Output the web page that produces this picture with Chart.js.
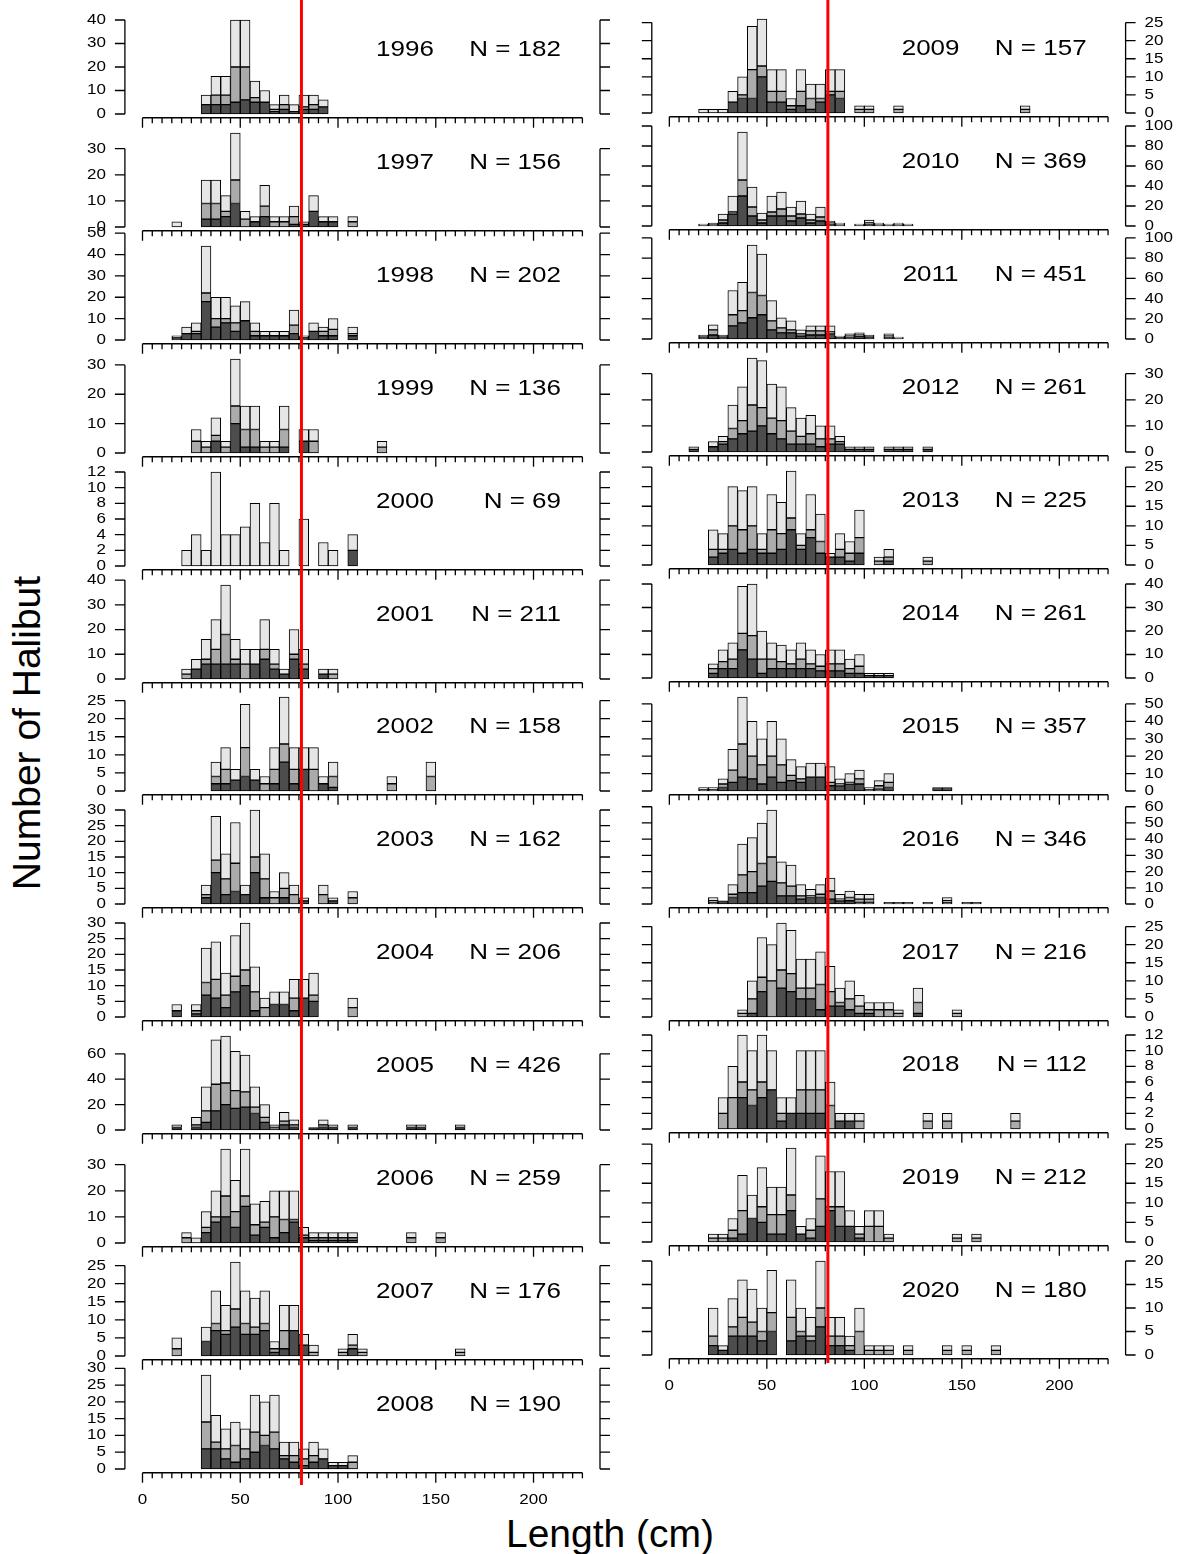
<!DOCTYPE html>
<html><head><meta charset="utf-8">
<script src="https://cdn.jsdelivr.net/npm/chart.js@4.4.1/dist/chart.umd.min.js"></script>
<style>
html,body{margin:0;padding:0;background:#fff;}
body{width:1178px;height:1554px;position:relative;overflow:hidden;font-family:"Liberation Sans",Arial,sans-serif;}
canvas{position:absolute;}
.ttl{position:absolute;white-space:nowrap;color:#000;font-size:39px;line-height:1;}
#ytitle{left:26px;top:733px;transform:translate(-50%,-50%) rotate(-90deg) scaleY(1);}
#xtitle{left:610px;top:1533px;transform:translate(-50%,-50%);}
</style></head><body>
<div id="ytitle" class="ttl">Number of Halibut</div>
<div id="xtitle" class="ttl">Length (cm)</div>
<script>
// ---------------- DATA (5-cm length bins: lower edge, counts per shade) ----------------
const years = [1996,1997,1998,1999,2000,2001,2002,2003,2004,2005,2006,2007,2008,2009,2010,2011,2012,2013,2014,2015,2016,2017,2018,2019,2020];
const nLabels = ['N = 182','N = 156','N = 202','N = 136','N = 69','N = 211','N = 158','N = 162','N = 206','N = 426','N = 259','N = 176','N = 190','N = 157','N = 369','N = 451','N = 261','N = 225','N = 261','N = 357','N = 346','N = 216','N = 112','N = 212','N = 180'];
const xMajorTicks = [0,50,100,150,200];
const xMinorTicks = [0,5,10,15,20,25,30,35,40,45,50,55,60,65,70,75,80,85,90,95,100,105,110,115,120,125,130,135,140,145,150,155,160,165,170,175,180,185,190,195,200,205,210,215,220,225];
const cutLength = 81.3;

const bins1996=[30,35,40,45,50,55,60,65,70,75,80,85,90];
const dark1996=[4,4,4,5,6,5,5,1,2,1,2,2,3];
const mid1996=[0,4,4,15,14,2,0,1,2,0,1,2,0];
const light1996=[4,8,8,20,20,7,5,2,4,3,5,4,3];
const yt1996=[0,10,20,30,40];

const bins1997=[15,30,35,40,45,50,55,60,65,70,75,80,85,90,95,105];
const dark1997=[0,3,3,4,9,0,2,4,0,0,1,1,6,2,2,0];
const mid1997=[0,6,6,2,9,3,0,4,2,2,3,0,0,0,0,2];
const light1997=[2,9,9,6,18,3,2,8,2,2,4,1,6,2,2,2];
const yt1997=[0,10,20,30];

const bins1998=[15,20,25,30,35,40,45,50,55,60,65,70,75,80,85,90,95,105];
const dark1998=[1,3,3,18,6,8,4,9,2,2,2,2,3,1,4,2,2,2];
const mid1998=[0,0,1,4,4,2,4,0,2,0,0,0,4,0,0,2,3,1];
const light1998=[1,3,4,22,10,10,8,9,4,2,2,2,7,1,4,2,5,3];
const yt1998=[0,10,20,30,40,50];

const bins1999=[25,30,35,40,45,50,55,60,65,70,80,85,120];
const dark1999=[0,0,4,0,10,2,2,0,0,2,4,0,0];
const mid1999=[4,2,2,2,6,6,6,2,2,6,0,4,2];
const light1999=[4,2,6,2,16,8,8,2,2,8,4,4,2];
const yt1999=[0,10,20,30];

const bins2000=[20,25,30,35,40,45,50,55,60,65,70,80,90,95,105];
const dark2000=[0,0,0,0,0,0,0,0,0,0,0,0,0,0,2];
const mid2000=[0,0,0,0,0,0,0,0,0,0,0,0,0,0,0];
const light2000=[2,4,2,12,4,4,5,8,3,8,2,6,3,2,2];
const yt2000=[0,2,4,6,8,10,12];

const bins2001=[20,25,30,35,40,45,50,55,60,65,70,75,80,90,95];
const dark2001=[0,4,6,6,6,6,0,6,8,4,2,8,4,2,0];
const mid2001=[2,0,2,6,12,2,6,0,4,2,0,2,2,0,2];
const light2001=[2,4,8,12,20,8,6,6,12,6,2,10,6,2,2];
const yt2001=[0,10,20,30,40];

const bins2002=[35,40,45,50,55,60,65,70,75,80,85,90,95,125,145];
const dark2002=[2,2,3,4,3,0,2,8,2,6,0,2,1,0,0];
const mid2002=[2,4,0,8,0,2,4,5,4,0,6,0,3,2,4];
const light2002=[4,6,3,12,3,2,6,13,6,6,6,2,4,2,4];
const yt2002=[0,5,10,15,20,25];

const bins2003=[30,35,40,45,50,55,60,65,70,75,80,90,95,105];
const dark2003=[2,10,3,4,3,10,2,0,2,0,1,0,1,0];
const mid2003=[1,4,5,9,0,5,6,2,3,3,0,3,0,2];
const light2003=[3,14,8,13,3,15,8,2,5,3,1,3,1,2];
const yt2003=[0,5,10,15,20,25,30];

const bins2004=[15,25,30,35,40,45,50,55,60,65,70,75,80,85,105];
const dark2004=[2,1,7,6,3,8,10,2,0,4,4,2,6,5,0];
const mid2004=[0,1,4,6,4,5,5,6,3,0,0,4,0,2,3];
const light2004=[2,2,11,12,7,13,15,8,3,4,4,6,6,7,3];
const yt2004=[0,5,10,15,20,25,30];

const bins2005=[15,25,30,35,40,45,50,55,60,65,70,75,85,90,95,105,135,140,160];
const dark2005=[2,2,6,15,20,17,18,13,6,0,4,2,2,2,2,2,2,2,2];
const mid2005=[0,2,9,21,17,14,12,5,4,2,3,2,0,2,0,0,0,0,0];
const light2005=[2,6,19,35,37,31,29,16,10,2,7,4,0,4,2,2,2,2,2];
const yt2005=[0,20,40,60];

const bins2006=[20,25,30,35,40,45,50,55,60,65,70,75,80,85,90,95,100,105,135,150];
const dark2006=[0,0,4,8,10,6,14,3,6,2,4,8,2,1,1,1,1,1,0,0];
const mid2006=[2,0,2,2,8,6,4,4,2,8,5,1,1,1,1,1,1,1,2,2];
const light2006=[2,2,6,10,18,12,18,8,8,10,11,11,3,2,2,2,2,2,2,2];
const yt2006=[0,10,20,30];

const bins2007=[15,30,35,40,45,50,55,60,65,70,75,80,85,100,105,110,160];
const dark2007=[0,4,7,6,8,6,6,7,1,2,7,3,0,0,2,0,0];
const mid2007=[2,0,2,1,5,3,2,2,1,5,0,0,1,1,1,1,1];
const light2007=[3,4,9,7,13,9,8,9,2,7,7,3,2,1,3,1,1];
const yt2007=[0,5,10,15,20,25];

const bins2008=[30,35,40,45,50,55,60,65,70,75,80,85,90,95,100,105];
const dark2008=[6,6,3,2,3,5,7,6,3,2,1,2,3,1,1,0];
const mid2008=[8,2,3,5,3,6,3,5,1,2,2,2,0,0,0,2];
const light2008=[14,8,6,7,6,11,10,11,4,4,3,4,3,1,1,2];
const yt2008=[0,5,10,15,20,25,30];

const bins2009=[15,20,25,30,35,40,45,50,55,60,65,70,75,80,85,95,100,115,180];
const dark2009=[0,0,0,3,4,4,10,3,3,1,2,1,3,5,4,0,0,0,0];
const mid2009=[0,0,0,0,1,8,3,3,3,1,4,3,1,1,2,1,1,1,1];
const light2009=[1,1,1,3,5,12,13,6,6,2,6,4,4,6,6,1,1,1,1];
const yt2009=[0,5,10,15,20,25];

const bins2010=[15,20,25,30,35,40,45,50,55,60,65,70,75,80,85,95,100,105,110,115,120];
const dark2010=[1,1,3,12,30,10,3,10,10,5,8,3,5,2,1,1,2,1,1,1,1];
const mid2010=[0,0,3,2,16,9,3,4,7,5,4,3,4,1,1,0,1,1,0,1,0];
const light2010=[1,2,6,16,48,20,7,16,17,9,13,6,10,2,1,1,3,1,1,1,1];
const yt2010=[0,20,40,60,80,100];

const bins2011=[15,20,25,30,35,40,45,50,55,60,65,70,75,80,85,90,95,100,110,115];
const dark2011=[2,4,2,13,16,21,24,9,6,6,3,4,4,5,2,2,3,2,2,1];
const mid2011=[0,5,0,11,12,25,19,9,5,3,2,4,4,2,0,1,1,0,1,0];
const light2011=[2,5,2,24,28,47,41,20,10,9,4,5,5,6,1,2,2,2,2,1];
const yt2011=[0,20,40,60,80,100];

const bins2012=[10,20,25,30,35,40,45,50,55,60,65,70,75,80,85,90,95,100,110,115,120,130];
const dark2012=[1,2,3,5,7,8,10,7,5,3,3,3,2,3,3,1,1,1,1,1,1,1];
const mid2012=[0,0,1,4,5,10,7,6,7,5,3,4,3,2,1,0,0,0,0,0,0,0];
const light2012=[1,2,2,9,13,18,18,13,13,9,7,7,5,5,2,1,1,1,1,1,1,1];
const yt2012=[0,10,20,30];

const bins2013=[20,25,30,35,40,45,50,55,60,65,70,75,80,85,90,95,105,110,130];
const dark2013=[2,3,4,3,4,3,3,4,9,4,7,3,2,2,1,3,0,1,0];
const mid2013=[2,1,6,6,6,1,6,4,3,1,2,3,0,2,2,4,1,1,1];
const light2013=[5,4,10,10,10,4,9,8,12,3,9,7,1,4,3,7,1,2,1];
const yt2013=[0,5,10,15,20,25];

const bins2014=[20,25,30,35,40,45,50,55,60,65,70,75,80,85,90,95,100,105,110];
const dark2014=[2,4,4,12,8,2,4,4,4,4,4,3,3,3,2,2,1,1,1];
const mid2014=[2,3,4,7,10,6,4,3,2,4,2,2,3,3,2,3,0,0,0];
const light2014=[2,5,7,20,22,12,7,7,6,7,6,5,6,6,4,5,1,1,1];
const yt2014=[0,10,20,30,40];

const bins2015=[15,20,25,30,35,40,45,50,55,60,65,70,75,80,85,90,95,100,105,110,135,140];
const dark2015=[1,1,2,5,8,7,4,8,5,6,5,8,8,3,3,4,4,1,1,2,2,2];
const mid2015=[0,0,2,7,19,13,11,12,10,3,2,0,0,2,1,1,3,0,2,3,0,0];
const light2015=[1,1,3,12,27,20,15,20,15,9,7,8,8,9,3,5,5,1,3,5,0,0];
const yt2015=[0,10,20,30,40,50];

const bins2016=[20,25,30,35,40,45,50,55,60,65,70,75,80,85,90,95,100,110,115,120,130,140,150,155];
const dark2016=[1,2,4,7,7,11,14,5,5,3,4,4,3,2,2,1,1,1,1,1,1,1,1,1];
const mid2016=[1,0,2,11,13,14,15,8,6,2,1,2,5,1,2,2,2,0,0,0,0,1,0,0];
const light2016=[2,0,6,19,21,25,29,13,13,7,4,6,8,3,4,3,3,0,0,0,0,2,0,0];
const yt2016=[0,10,20,30,40,50,60];

const bins2017=[35,40,45,50,55,60,65,70,75,80,85,90,95,100,105,110,115,125,145];
const dark2017=[0,1,7,0,8,7,5,5,2,3,3,2,1,1,0,0,0,1,0];
const mid2017=[1,4,4,10,5,5,3,3,7,4,1,3,2,1,2,2,1,3,1];
const light2017=[1,5,11,10,13,12,8,8,9,7,4,5,3,2,2,2,1,4,1];
const yt2017=[0,5,10,15,20,25];

const bins2018=[25,30,35,40,45,50,55,60,65,70,75,80,85,90,95,130,140,175];
const dark2018=[0,0,4,3,4,5,1,2,2,2,2,0,1,1,0,0,0,0];
const mid2018=[2,4,2,2,2,0,1,0,3,3,3,3,0,0,1,1,1,1];
const light2018=[2,4,6,5,6,5,2,2,5,5,5,3,1,1,1,1,1,1];
const yt2018=[0,2,4,6,8,10,12];

const bins2019=[20,25,30,35,40,45,50,55,60,65,70,75,80,85,90,95,100,105,110,145,155];
const dark2019=[0,0,1,2,6,5,2,2,8,2,1,4,8,4,4,1,0,0,0,0,0];
const mid2019=[1,1,2,6,0,4,5,5,4,0,2,7,1,5,0,1,4,4,1,1,1];
const light2019=[1,1,3,9,6,10,7,7,12,2,3,11,9,9,4,2,4,4,1,1,1];
const yt2019=[0,5,10,15,20,25];

const bins2020=[20,25,30,35,40,45,50,60,65,70,75,80,85,90,95,100,105,110,120,140,150,165];
const dark2020=[2,1,4,4,4,3,5,3,4,3,6,2,2,1,0,0,0,0,0,0,0,0];
const mid2020=[2,0,2,4,3,2,4,5,1,1,4,2,2,1,5,1,1,1,1,1,1,1];
const light2020=[6,1,6,8,7,5,9,8,5,4,10,4,4,2,5,1,1,1,1,1,1,1];
const yt2020=[0,5,10,15,20];

// ---------------- assemble panels ----------------
const panelBins=[bins1996,bins1997,bins1998,bins1999,bins2000,bins2001,bins2002,bins2003,bins2004,bins2005,bins2006,bins2007,bins2008,bins2009,bins2010,bins2011,bins2012,bins2013,bins2014,bins2015,bins2016,bins2017,bins2018,bins2019,bins2020];
const panelDark=[dark1996,dark1997,dark1998,dark1999,dark2000,dark2001,dark2002,dark2003,dark2004,dark2005,dark2006,dark2007,dark2008,dark2009,dark2010,dark2011,dark2012,dark2013,dark2014,dark2015,dark2016,dark2017,dark2018,dark2019,dark2020];
const panelMid=[mid1996,mid1997,mid1998,mid1999,mid2000,mid2001,mid2002,mid2003,mid2004,mid2005,mid2006,mid2007,mid2008,mid2009,mid2010,mid2011,mid2012,mid2013,mid2014,mid2015,mid2016,mid2017,mid2018,mid2019,mid2020];
const panelLight=[light1996,light1997,light1998,light1999,light2000,light2001,light2002,light2003,light2004,light2005,light2006,light2007,light2008,light2009,light2010,light2011,light2012,light2013,light2014,light2015,light2016,light2017,light2018,light2019,light2020];
const panelYT=[yt1996,yt1997,yt1998,yt1999,yt2000,yt2001,yt2002,yt2003,yt2004,yt2005,yt2006,yt2007,yt2008,yt2009,yt2010,yt2011,yt2012,yt2013,yt2014,yt2015,yt2016,yt2017,yt2018,yt2019,yt2020];

// ---------------- layout ----------------
const FONT = '"Liberation Sans", Arial, sans-serif';
const TSY = 0.84;          // vertical squash of text in the reference
const ROWSTEP = 112.9;
const HALF = 94;           // px between 0 and panel max
const COLS = [
  {zero0:114.0, left:124.9, right:600.0, cx:0,   cw:640, n:13},
  {zero0:113.3, left:651.8, right:1125.6, cx:632, cw:546, n:12}
];
const CTOP = 125, CH = 190;

function txt(ctx, s, x, y, size, align){
  ctx.save();
  ctx.font = size + 'px ' + FONT;
  ctx.textAlign = align; ctx.textBaseline = 'middle'; ctx.fillStyle = '#000';
  ctx.translate(x, y); ctx.scale(1, TSY);
  ctx.fillText(s, 0, 0);
  ctx.restore();
}

function makePlugin(p){
  return {
    id: 'rStyle' + p.idx,
    afterDatasetsDraw(chart){
      const ctx = chart.ctx, a = chart.chartArea, xs = chart.scales.x, ys = chart.scales.y;
      ctx.save();
      ctx.strokeStyle = '#000'; ctx.lineWidth = 1.3; ctx.lineCap = 'butt';
      // y axes on both sides
      const yt = p.yt;
      const yA = ys.getPixelForValue(yt[0]), yB = ys.getPixelForValue(yt[yt.length-1]);
      [[a.left,-1],[a.right,1]].forEach(([ax,dir])=>{
        ctx.beginPath();
        ctx.moveTo(ax, yA); ctx.lineTo(ax, yB);
        yt.forEach(v=>{ const py = ys.getPixelForValue(v); ctx.moveTo(ax, py); ctx.lineTo(ax + dir*10, py); });
        ctx.stroke();
      });
      yt.forEach(v=>{
        const py = ys.getPixelForValue(v);
        if (p.col === 0) txt(ctx, String(v), a.left - 19, py, 17, 'right');
        else txt(ctx, String(v), a.right + 19, py, 17, 'left');
      });
      // x axis
      const xb = a.bottom;
      ctx.beginPath();
      ctx.moveTo(xs.getPixelForValue(xMinorTicks[0]), xb);
      ctx.lineTo(xs.getPixelForValue(xMinorTicks[xMinorTicks.length-1]), xb);
      xMinorTicks.forEach(v=>{ const px = xs.getPixelForValue(v); ctx.moveTo(px, xb); ctx.lineTo(px, xb + (xMajorTicks.includes(v) ? 10 : 5.5)); });
      ctx.stroke();
      if (p.last) xMajorTicks.forEach(v=> txt(ctx, String(v), xs.getPixelForValue(v), xb + 27, 17, 'center'));
      // year and N
      const ty = ys.getPixelForValue(0) - 64;
      txt(ctx, String(p.year), a.right - 195, ty, 26, 'center');
      txt(ctx, p.nLabel, a.right - 39, ty, 26, 'right');
      // red reference line (legal size)
      const rx = xs.getPixelForValue(cutLength);
      const z = ys.getPixelForValue(0);
      const top = p.first ? 0 : z - (ROWSTEP - 4);
      const bot = p.last ? z + (p.col === 0 ? 16 : 8) : z + 4.5;
      ctx.strokeStyle = '#ff0000'; ctx.lineWidth = 3;
      ctx.beginPath(); ctx.moveTo(rx, top); ctx.lineTo(rx, bot); ctx.stroke();
      ctx.restore();
    }
  };
}

Chart.defaults.font.family = FONT;
years.forEach((yr, i)=>{
  const col = i < 13 ? 0 : 1;
  const k = col === 0 ? i : i - 13;
  const C = COLS[col];
  const zero = C.zero0 + ROWSTEP * k;
  const cv = document.createElement('canvas');
  cv.width = C.cw; cv.height = CH;
  cv.style.left = C.cx + 'px'; cv.style.top = (zero - CTOP) + 'px';
  cv.style.width = C.cw + 'px'; cv.style.height = CH + 'px';
  document.body.appendChild(cv);

  const bins = panelBins[i];
  const mk = arr => bins.map((b, j)=>({x: b + 2.5, y: arr[j] > 0 ? arr[j] : null}));
  let M = 0; bins.forEach((b,j)=>{ M = Math.max(M, panelDark[i][j] + panelMid[i][j] + panelLight[i][j]); });
  const pad = {
    left: C.left - C.cx, right: C.cx + C.cw - C.right,
    top: CTOP - HALF * 1.04, bottom: CH - CTOP - HALF * 0.04
  };
  const common = {borderColor:'#000', borderWidth:1, borderSkipped:false, grouped:false, categoryPercentage:1, barPercentage:1};
  new Chart(cv, {
    type:'bar',
    data:{ datasets:[
      Object.assign({label:'dark', data: mk(panelDark[i]), backgroundColor:'#4d4d4d'}, common),
      Object.assign({label:'mid', data: mk(panelMid[i]), backgroundColor:'#ababab'}, common),
      Object.assign({label:'light', data: mk(panelLight[i]), backgroundColor:'#e6e6e6'}, common)
    ]},
    options:{
      responsive:false, animation:false, devicePixelRatio:1,
      layout:{padding:pad},
      plugins:{legend:{display:false}, tooltip:{enabled:false}},
      scales:{
        x:{type:'linear', offset:false, min:-9, max:234, display:false, ticks:{stepSize:50}},
        y:{type:'linear', stacked:true, min:-0.04*M, max:1.04*M, display:false}
      }
    },
    plugins:[makePlugin({idx:i, col, year:yr, nLabel:nLabels[i], yt:panelYT[i], first:k===0, last:k===C.n-1})]
  });
});
</script>
</body></html>
